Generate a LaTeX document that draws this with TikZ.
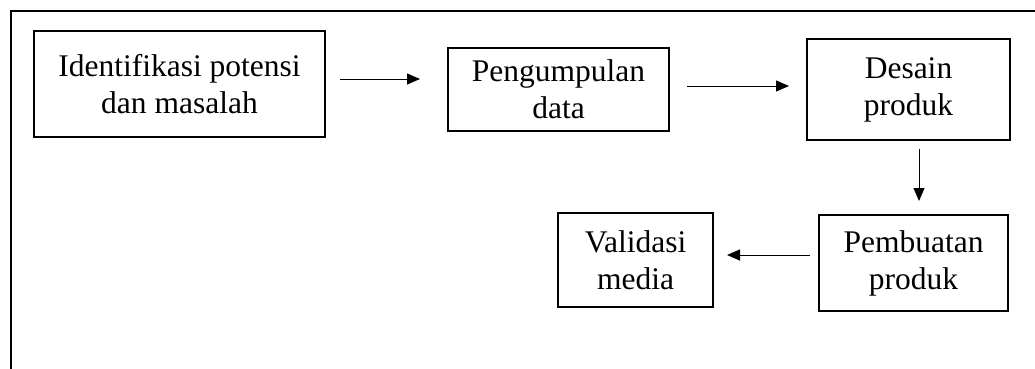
\documentclass[tikz,border=0pt]{standalone}
\usepackage{fontspec}
\setmainfont{Liberation Serif}
\usetikzlibrary{arrows.meta}
\begin{document}
\begin{tikzpicture}[x=1pt,y=-1pt,
  box/.style={draw,line width=2pt,align=center,inner sep=0pt,font=\fontsize{31.5}{37}\selectfont},
  arr/.style={line width=1pt,-{Triangle[length=13pt,width=11pt]}}]
\useasboundingbox (0,0) rectangle (1035,369);
\draw[line width=2pt] (11,369) -- (11,11) -- (1035,11);
\node[box,minimum width=291pt,minimum height=106pt] (n1) at (179.5,84) {Identifikasi potensi\\dan masalah};
\node[box,minimum width=221pt,minimum height=83pt] (n2) at (558.5,89.5) {Pengumpulan\\data};
\node[box,minimum width=203pt,minimum height=101pt] (n3) at (908.5,89.5) {Desain\\produk};
\node[box,minimum width=189pt,minimum height=96pt] (n4) at (913.5,263) {Pembuatan\\produk};
\node[box,minimum width=155pt,minimum height=94pt] (n5) at (635.5,260) {Validasi\\media};
\draw[arr] ([shift={(14,-5)}]n1.east) -- ([shift={(-27,-10.5)}]n2.west);
\draw[arr] ([shift={(17,-3.5)}]n2.east) -- ([shift={(-17,-3.5)}]n3.west);
\draw[arr] ([shift={(10.5,8)}]n3.south) -- ([shift={(5.5,-13)}]n4.north);
\draw[arr] ([shift={(-8,-8)}]n4.west) -- ([shift={(13,-5)}]n5.east);
\end{tikzpicture}
\end{document}
